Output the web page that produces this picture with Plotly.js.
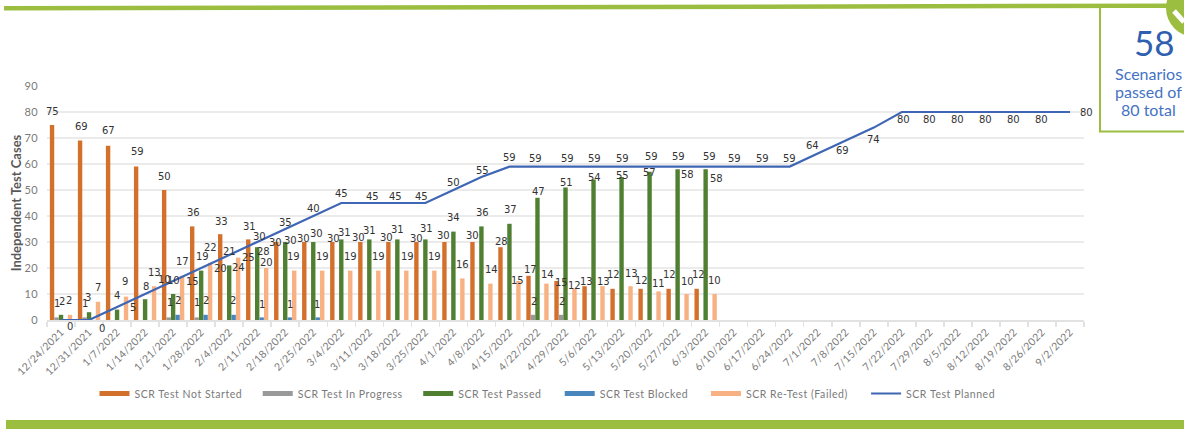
<!DOCTYPE html>
<html><head><meta charset="utf-8">
<script src="https://cdn.plot.ly/plotly-3.0.1.min.js"></script>
<style>html,body{margin:0;padding:0;background:#fff;overflow:hidden}#c{width:1184px;height:429px}
#c .legendtext{letter-spacing:.55px}
#c .xtick text,#c .ytick text{letter-spacing:.25px}
</style>
</head><body><div id="c"></div>
<script>
const dates = ["12/24/2021","12/31/2021","1/7/2022","1/14/2022","1/21/2022","1/28/2022","2/4/2022","2/11/2022","2/18/2022","2/25/2022","3/4/2022","3/11/2022","3/18/2022","3/25/2022","4/1/2022","4/8/2022","4/15/2022","4/22/2022","4/29/2022","5/6/2022","5/13/2022","5/20/2022","5/27/2022","6/3/2022","6/10/2022","6/17/2022","6/24/2022","7/1/2022","7/8/2022","7/15/2022","7/22/2022","7/29/2022","8/5/2022","8/12/2022","8/19/2022","8/26/2022","9/2/2022"];
const notStarted = [75,69,67,59,50,36,33,31,30,30,30,30,30,30,30,30,28,17,15,13,12,12,12,12];
const inProgress = [1,1,null,null,1,1,null,null,null,null,null,null,null,null,null,null,null,2,2];
const passed = [2,3,4,8,10,19,21,28,30,30,31,31,31,31,34,36,37,47,51,54,55,57,58,58];
const blocked = [null,null,null,null,2,2,2,1,1,1];
const retest = [2,7,9,13,17,22,24,20,19,19,19,19,19,19,16,14,15,14,12,13,13,11,10,10];
const planned = [0,0,5,10,15,20,25,30,35,40,45,45,45,45,50,55,59,59,59,59,59,59,59,59,59,59,59,64,69,74,80,80,80,80,80,80,80];

// Hand placement of value labels, in pixels from the point: [right, up]
const nudgeNotStarted = [[-9,14],[-8,14],[-9,15],[-8,15],[-9,14],[-8,14],[-8,13],[-8,13],[-10,0],[-10,4],[-8,4],[-11,5],[-11,5],[-9,4],[-10,7],[-9,7],[-8,6],[-7,6],[-4,-1],[-7,5],[-8,14],[-8,8],[-8,14],[-7,14]];
const nudgePassed = [[1,13],[-1,15],[0,14],[1,13],[0,14],[1,14],[0,14],[6,-4],[5,2],[3,9],[3,7],[0,9],[0,10],[1,11],[0,14],[1,14],[1,14],[1,6],[1,5],[1,2],[1,2],[0,-1],[10,-5],[11,-9]];
const nudgeRetest = [[8,14],[9,14],[8,15],[9,14],[9,14],[9,15],[9,-10],[9,6],[8,14],[9,14],[9,14],[9,14],[10,14],[9,14],[9,14],[10,14],[8,1],[10,9],[9,3],[10,5],[10,13],[9,8],[10,13],[9,14]];
const nudgePlanned = [[9,-6],[13,-8],[16,0],[19,15],[19,0],[19,0],[19,-2],[2,6],[0,7],[0,8],[0,10],[3,7],[-2,7],[-4,7],[0,8],[1,7],[0,9],[-2,8],[2,8],[1,8],[1,8],[2,10],[1,10],[4,10],[1,8],[1,8],[0,8],[-5,8],[-3,-10],[0,-12],[2,-7],[0,-7],[0,-7],[0,-7],[0,-7],[0,-7],[17,0]];
const nudgeProgress = {0:[-4,14],1:[-4,14],4:[-3,15],5:[-4,15],17:[-3,13],18:[-4,13]};
const nudgeBlocked = {4:[5,14],5:[5,14],6:[4,14],7:[5,13],8:[5,13],9:[4,13]};

const cOrange="#D3702B", cGray="#999999", cGreen="#4F7F31", cBlue="#4A86BE", cPeach="#F8B182", cLine="#3F66B4", cLime="#9BBD40", cText="#7A7A7A";
const chartFont="'DejaVu Sans'", uiFont="'Lato'";

const barNames=["SCR Test Not Started","SCR Test In Progress","SCR Test Passed","SCR Test Blocked","SCR Re-Test (Failed)"];
const barVals=[notStarted,inProgress,passed,blocked,retest];
const barCols=[cOrange,cGray,cGreen,cBlue,cPeach];
const legendPad=[8,8,8,8,9,5];
const padded=(n,i)=>n+"\u00A0".repeat(legendPad[i]);
const traces=barVals.map((v,i)=>({type:"bar",name:barNames[i],x:dates.slice(0,v.length),y:v,marker:{color:barCols[i]},showlegend:false,hoverinfo:"x+y"}));
traces.push({type:"scatter",mode:"lines",name:"SCR Test Planned",x:dates,y:planned,line:{color:cLine,width:2.2},showlegend:false});
// legend keys drawn as wide swatches
barNames.forEach((n,i)=>traces.push({type:"scatter",mode:"lines",name:padded(n,i),x:[dates[0]],y:[null],line:{color:barCols[i],width:5},showlegend:true}));
traces.push({type:"scatter",mode:"lines",name:padded("SCR Test Planned",5),x:[dates[0]],y:[null],line:{color:cLine,width:2.2},showlegend:true});

const annotations=[];
function lab(i,v,n){annotations.push({x:dates[i],y:v,xref:"x",yref:"y",text:String(v),showarrow:false,xshift:n[0],yshift:n[1],xanchor:"center",yanchor:"middle",font:{family:chartFont,size:10,color:"#333"}});}
notStarted.forEach((v,i)=>lab(i,v,nudgeNotStarted[i]));
passed.forEach((v,i)=>lab(i,v,nudgePassed[i]));
retest.forEach((v,i)=>lab(i,v,nudgeRetest[i]));
planned.forEach((v,i)=>lab(i,v,nudgePlanned[i]));
inProgress.forEach((v,i)=>{if(v!=null)lab(i,v,nudgeProgress[i]);});
blocked.forEach((v,i)=>{if(v!=null)lab(i,v,nudgeBlocked[i]);});

// page furniture, positioned in pixels of the 1184x429 window
const L=47,R=1084,T=86,B=320;
const px=x=>(x-L)/(R-L), py=y=>(B-y)/(B-T);
const pth=pts=>"M"+pts.map(p=>px(p[0])+","+py(p[1])).join("L")+"Z";
const shapes=[
 {type:"path",xref:"paper",yref:"paper",path:pth([[4,6],[1184,3.5],[1184,8],[4,10.5]]),fillcolor:cLime,line:{width:0},layer:"above"},
 {type:"rect",xref:"paper",yref:"paper",x0:px(6),x1:px(1184),y0:py(420),y1:py(429),fillcolor:cLime,line:{width:0}},
 {type:"rect",xref:"paper",yref:"paper",x0:px(1100),x1:px(1190),y0:py(7),y1:py(131.5),fillcolor:"#fff",line:{color:cLime,width:2}},
 {type:"circle",xref:"paper",yref:"paper",x0:px(1166),x1:px(1224),y0:py(-21),y1:py(37),fillcolor:cLime,line:{width:0}},
 {type:"line",xref:"paper",yref:"paper",x0:px(1174),y0:py(11),x1:px(1184),y1:py(22),line:{color:"#fff",width:5}}
];
annotations.push({xref:"paper",yref:"paper",x:px(1154),y:py(42),text:"58",showarrow:false,font:{family:"Lato",size:35,color:"#2F5FAE"},xanchor:"center",yanchor:"middle"});
["Scenarios","passed of","80 total"].forEach((t,i)=>annotations.push({xref:"paper",yref:"paper",x:px(1148.5),y:py(73+i*18),text:t,showarrow:false,font:{family:"Lato",size:16,color:"#4472C4"},xanchor:"center",yanchor:"middle"}));

Plotly.newPlot("c",traces,{
 width:1184,height:429,paper_bgcolor:"#fff",plot_bgcolor:"#fff",
 margin:{l:L,r:1184-R,t:T,b:429-B,pad:0},
 barmode:"group",bargap:0.2,bargroupgap:0.02,showlegend:true,hovermode:"closest",
 font:{family:uiFont,color:cText},
 xaxis:{type:"category",categoryorder:"array",categoryarray:dates,range:[-0.5,36.5],tickson:"boundaries",ticks:"outside",ticklen:5,tickcolor:"#E2E2E2",tickwidth:1.5,tickangle:-45,tickfont:{family:uiFont,size:10.5,color:cText},showline:true,linecolor:"#E2E2E2",linewidth:2,showgrid:false,automargin:false},
 yaxis:{range:[0,90],dtick:10,tickfont:{family:uiFont,size:11,color:cText},gridcolor:"#EBEBEB",gridwidth:2,zeroline:false,ticks:"outside",ticklen:6,tickcolor:"rgba(0,0,0,0)",automargin:false,
  title:{text:"Independent Test Cases",font:{family:uiFont,size:13,color:"#595959",weight:"bold"},standoff:0}},
 legend:{orientation:"h",x:px(94.5),y:py(379),xanchor:"left",yanchor:"top",font:{family:uiFont,size:10.5,color:cText},itemwidth:30,tracegroupgap:0},
 shapes,annotations
},{displayModeBar:false,staticPlot:true});
</script></body></html>
